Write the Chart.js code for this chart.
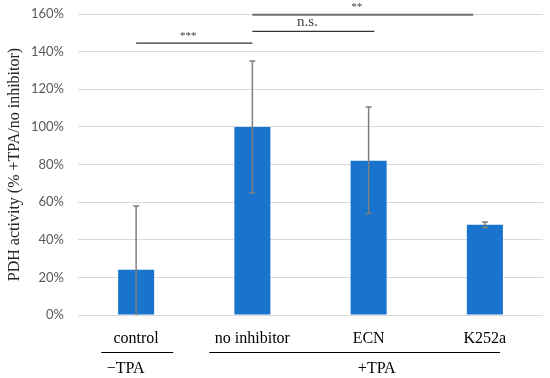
<!DOCTYPE html>
<html>
<head>
<meta charset="utf-8">
<script src="https://cdn.jsdelivr.net/npm/chart.js@4"></script>
<style>
  body { margin: 0; background: #fff; }
  #wrap { width: 550px; height: 378px; position: relative; }
</style>
</head>
<body>
<div id="wrap"><canvas id="chart"></canvas></div>
<script>
// values (percent of +TPA / no inhibitor)
const categories = ['control', 'no inhibitor', 'ECN', 'K252a'];
const activity = [24, 100, 82, 48];
const errLow = [0, 65, 54, 46.5];
const errHigh = [58, 135, 110.5, 49.5];
const yTicks = [0, 20, 40, 60, 80, 100, 120, 140, 160];

// significance brackets: from/to in category index, level in %
const sigFrom = [0, 1, 1];
const sigTo = [1, 2.05, 2.9];
const sigLevel = [144.5, 150.8, 159.6];
const sigText = ['***', 'n.s.', '**'];

// treatment groups under the axis
const groupText = ['\u2212TPA', '+TPA'];
const groupFrom = [-0.3, 0.63];
const groupTo = [0.32, 3.13];
const groupMid = [-0.09, 2.07];

const serif = '"Liberation Serif", "DejaVu Serif", serif';
const sans = 'Lato, "Open Sans", sans-serif';

const extras = {
    id: 'extras',
    afterDatasetsDraw(chart) {
        const ctx = chart.ctx;
        const x = chart.scales.x;
        const y = chart.scales.y;
        ctx.save();
        // error bars
        ctx.strokeStyle = '#7f7f7f';
        ctx.lineWidth = 1.5;
        activity.forEach((v, i) => {
            const cx = x.getPixelForValue(i);
            const top = y.getPixelForValue(errHigh[i]);
            const bot = y.getPixelForValue(errLow[i]);
            ctx.beginPath();
            ctx.moveTo(cx, top);
            ctx.lineTo(cx, bot);
            ctx.moveTo(cx - 3, top);
            ctx.lineTo(cx + 3, top);
            if (errLow[i] > 0) {
                ctx.moveTo(cx - 3, bot);
                ctx.lineTo(cx + 3, bot);
            }
            ctx.stroke();
        });
        ctx.restore();
    },
    afterDraw(chart) {
        const ctx = chart.ctx;
        const x = chart.scales.x;
        const y = chart.scales.y;
        ctx.save();
        // significance brackets
        ctx.textAlign = 'center';
        ctx.textBaseline = 'bottom';
        sigText.forEach((t, i) => {
            const x1 = x.getPixelForValue(sigFrom[i]);
            const x2 = x.getPixelForValue(sigTo[i]);
            const yy = y.getPixelForValue(sigLevel[i]);
            ctx.strokeStyle = t === '**' ? '#6f6f6f' : '#333';
            ctx.lineWidth = t === '**' ? 2 : 1.3;
            ctx.beginPath();
            ctx.moveTo(x1, yy);
            ctx.lineTo(x2, yy);
            ctx.stroke();
            ctx.fillStyle = '#404040';
            ctx.font = t === 'n.s.' ? '15px ' + serif : '11px ' + serif;
            ctx.fillText(t, (x1 + x2) / 2 - 6, yy - 2);
        });
        // group lines under category labels
        ctx.fillStyle = '#000';
        ctx.strokeStyle = '#000';
        ctx.lineWidth = 1;
        ctx.font = '16px ' + serif;
        ctx.textBaseline = 'middle';
        groupText.forEach((t, i) => {
            const x1 = x.getPixelForValue(groupFrom[i]);
            const x2 = x.getPixelForValue(groupTo[i]);
            ctx.beginPath();
            ctx.moveTo(x1, 352.5);
            ctx.lineTo(x2, 352.5);
            ctx.stroke();
            ctx.fillText(t, x.getPixelForValue(groupMid[i]), 369);
        });
        ctx.restore();
    }
};

new Chart(document.getElementById('chart'), {
    type: 'bar',
    data: {
        labels: categories,
        datasets: [{
            data: activity,
            backgroundColor: '#1874cd',
            borderWidth: 0,
            categoryPercentage: 1,
            barPercentage: 0.31
        }]
    },
    options: {
        responsive: true,
        maintainAspectRatio: false,
        animation: false,
        layout: { padding: { top: 14, right: 7, left: 0, bottom: 0 } },
        plugins: {
            legend: { display: false },
            tooltip: { enabled: false }
        },
        scales: {
            x: {
                grid: { display: false },
                border: { display: false },
                ticks: { color: '#000', font: { family: serif, size: 16 }, padding: 6 },
                afterFit(scale) { scale.height = 63; }
            },
            y: {
                min: 0,
                max: 160,
                afterBuildTicks(scale) { scale.ticks = yTicks.map(v => ({ value: v })); },
                grid: { color: '#d9d9d9', drawTicks: false },
                border: { display: false },
                ticks: {
                    color: '#595959',
                    font: { family: sans, size: 13 },
                    padding: 14,
                    callback: v => v + '%'
                },
                title: {
                    display: true,
                    text: 'PDH activity (% +TPA/no inhibitor)',
                    color: '#262626',
                    font: { family: serif, size: 16 },
                    padding: { top: 5, bottom: 0 }
                },
                afterFit(scale) {
                    scale.width = 78;
                    scale.paddingTop = 0;
                    scale.paddingBottom = 0;
                }
            }
        }
    },
    plugins: [extras]
});
</script>
</body>
</html>
